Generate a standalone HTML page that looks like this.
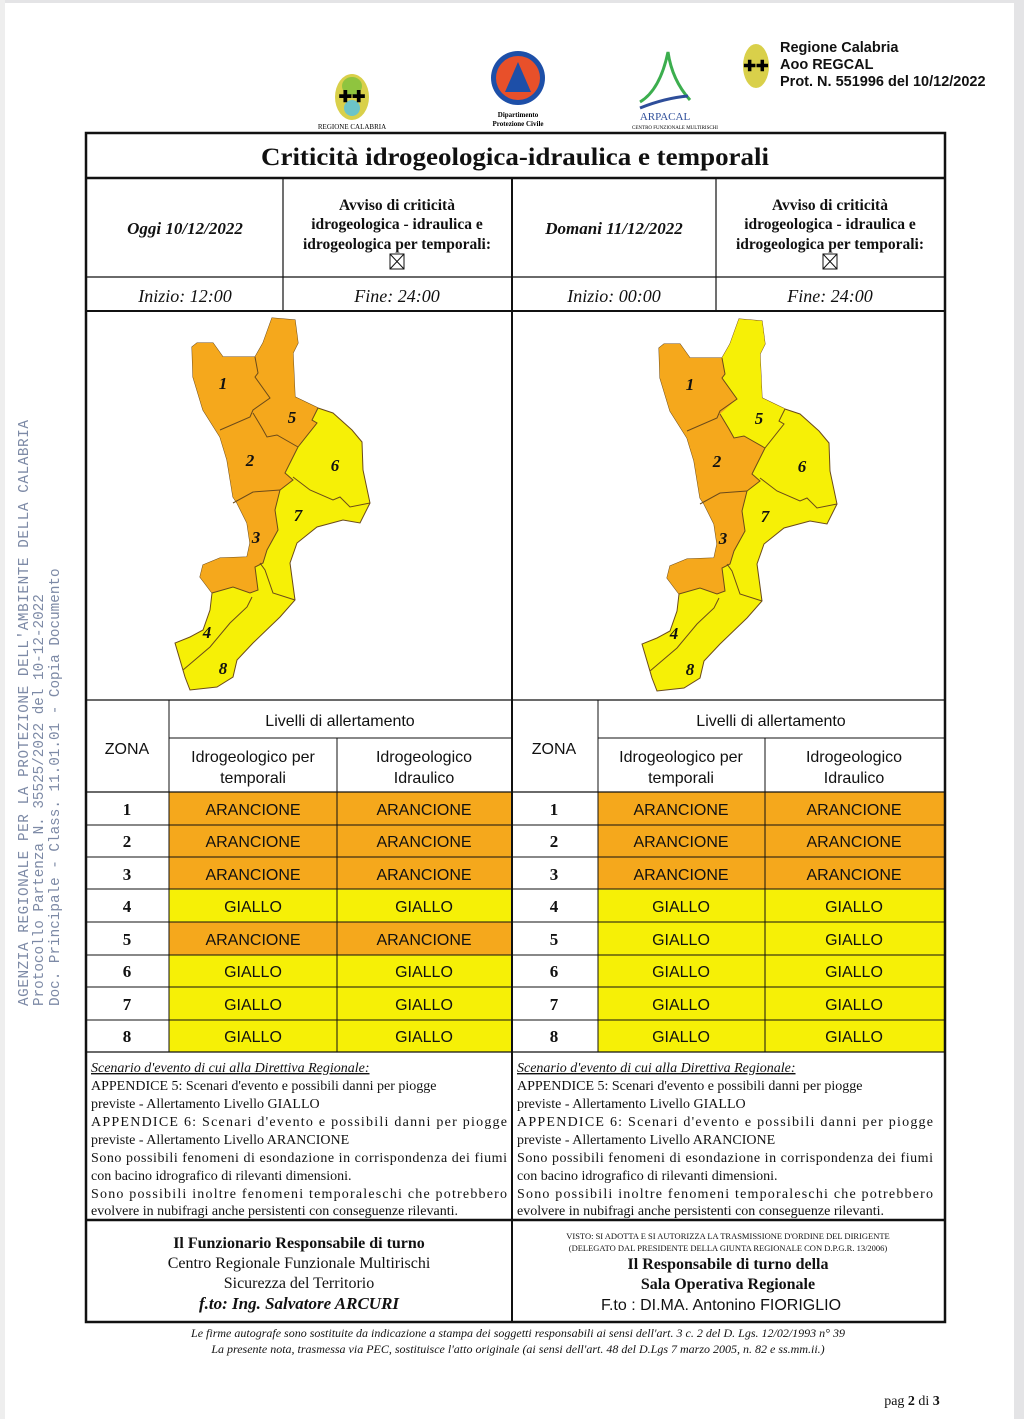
<!DOCTYPE html>
<html><head><meta charset="utf-8">
<style>
html,body{margin:0;padding:0;background:#fff}
svg{display:block}
.s{font-family:"Liberation Serif",serif}
.a{font-family:"Liberation Sans",sans-serif}
</style></head>
<body>
<svg width="1024" height="1419" viewBox="0 0 1024 1419" xmlns="http://www.w3.org/2000/svg">
<rect x="0" y="0" width="1024" height="1419" fill="#fff"/>
<rect x="1014" y="0" width="10" height="1419" fill="#e4e4e6"/>
<rect x="0" y="0" width="1024" height="3" fill="#e4e4e6"/>
<rect x="0" y="0" width="5" height="1419" fill="#eeeeee"/>

<!-- watermark -->
<g font-family="Liberation Mono,monospace" font-size="14.3" fill="#7d8aa6">
<text transform="translate(28,1006) rotate(-90)" textLength="586" lengthAdjust="spacing">AGENZIA REGIONALE PER LA PROTEZIONE DELL'AMBIENTE DELLA CALABRIA</text>
<text transform="translate(43,1006) rotate(-90)">Protocollo Partenza N. 35525/2022 del 10-12-2022</text>
<text transform="translate(59,1006) rotate(-90)">Doc. Principale - Class. 11.01.01 - Copia Documento</text>
</g>

<!-- logos -->
<ellipse cx="352" cy="97" rx="17" ry="23" fill="#d9d04a"/>
<ellipse cx="352" cy="86" rx="10" ry="9" fill="#8fc43f"/>
<ellipse cx="352" cy="108" rx="8" ry="8" fill="#6cc4c8"/>
<text x="352" y="102" font-size="16" text-anchor="middle" class="a" font-weight="bold">✚✚</text>
<text x="352" y="129" font-size="7" text-anchor="middle" class="s">REGIONE CALABRIA</text>
<circle cx="518" cy="78" r="27" fill="#1d4fa8"/>
<circle cx="518" cy="78" r="22" fill="#e8502a"/>
<path d="M505 92 L518 62 L531 92 Z" fill="#1d4fa8"/>
<text x="518" y="117" font-size="7" text-anchor="middle" class="s" font-weight="bold">Dipartimento</text>
<text x="518" y="126" font-size="7" text-anchor="middle" class="s" font-weight="bold">Protezione Civile</text>
<path d="M640 102 Q660 90 668 52 Q672 80 690 100" fill="none" stroke="#3cae4e" stroke-width="3"/>
<path d="M640 108 Q665 98 688 96" fill="none" stroke="#2e4e9a" stroke-width="3"/>
<text x="665" y="120" font-size="11" text-anchor="middle" class="s" fill="#2e4e9a">ARPACAL</text>
<text x="675" y="129" font-size="5" text-anchor="middle" class="s">CENTRO FUNZIONALE MULTIRISCHI</text>
<ellipse cx="756" cy="66" rx="13" ry="22" fill="#d9d04a"/>
<text x="756" y="71" font-size="15" text-anchor="middle" class="a" font-weight="bold">✚✚</text>
<g class="a" font-size="14.5" font-weight="bold" fill="#111">
<text x="780" y="52">Regione Calabria</text>
<text x="780" y="69">Aoo REGCAL</text>
<text x="780" y="86">Prot. N. 551996 del 10/12/2022</text>
</g>

<!-- colored cells -->
<g>
<rect x="169" y="792" width="343" height="97" fill="#f5a81c"/>
<rect x="169" y="889" width="343" height="33" fill="#f6f006"/>
<rect x="169" y="922" width="343" height="33" fill="#f5a81c"/>
<rect x="169" y="955" width="343" height="97" fill="#f6f006"/>
<rect x="598" y="792" width="347" height="97" fill="#f5a81c"/>
<rect x="598" y="889" width="347" height="163" fill="#f6f006"/>
</g>

<!-- grid -->
<g stroke="#111" fill="none">
<rect x="86" y="133" width="859" height="1189" stroke-width="2.5"/>
<line x1="86" y1="178" x2="945" y2="178" stroke-width="2.5"/>
<line x1="86" y1="277" x2="945" y2="277" stroke-width="1.2"/>
<line x1="86" y1="311" x2="945" y2="311" stroke-width="2"/>
<line x1="86" y1="700" x2="945" y2="700" stroke-width="1.2"/>
<line x1="86" y1="792" x2="945" y2="792" stroke-width="1.2"/>
<line x1="169" y1="738" x2="512" y2="738" stroke-width="1"/>
<line x1="598" y1="738" x2="945" y2="738" stroke-width="1"/>
<line x1="86" y1="825" x2="945" y2="825" stroke-width="1"/>
<line x1="86" y1="857" x2="945" y2="857" stroke-width="1"/>
<line x1="86" y1="889" x2="945" y2="889" stroke-width="1"/>
<line x1="86" y1="922" x2="945" y2="922" stroke-width="1"/>
<line x1="86" y1="955" x2="945" y2="955" stroke-width="1"/>
<line x1="86" y1="987" x2="945" y2="987" stroke-width="1"/>
<line x1="86" y1="1020" x2="945" y2="1020" stroke-width="1"/>
<line x1="86" y1="1052" x2="945" y2="1052" stroke-width="1.2"/>
<line x1="86" y1="1220" x2="945" y2="1220" stroke-width="2.5"/>
<line x1="512" y1="178" x2="512" y2="1322" stroke-width="2"/>
<line x1="283" y1="178" x2="283" y2="311" stroke-width="1.2"/>
<line x1="716" y1="178" x2="716" y2="311" stroke-width="1.2"/>
<line x1="169" y1="700" x2="169" y2="1052" stroke-width="1"/>
<line x1="337" y1="738" x2="337" y2="1052" stroke-width="1"/>
<line x1="598" y1="700" x2="598" y2="1052" stroke-width="1"/>
<line x1="765" y1="738" x2="765" y2="1052" stroke-width="1"/>
</g>

<!-- header texts -->
<g class="s" fill="#111">
<text x="515" y="165" font-size="25" font-weight="bold" text-anchor="middle" textLength="508" lengthAdjust="spacingAndGlyphs">Criticità idrogeologica-idraulica e temporali</text>
<text x="185" y="234" font-size="17" font-weight="bold" font-style="italic" text-anchor="middle">Oggi 10/12/2022</text>
<text x="614" y="234" font-size="17" font-weight="bold" font-style="italic" text-anchor="middle">Domani 11/12/2022</text>
<g font-size="15.5" font-weight="bold" text-anchor="middle">
<text x="397" y="210">Avviso di criticità</text>
<text x="397" y="229">idrogeologica - idraulica e</text>
<text x="397" y="249">idrogeologica per temporali:</text>
<text x="830" y="210">Avviso di criticità</text>
<text x="830" y="229">idrogeologica - idraulica e</text>
<text x="830" y="249">idrogeologica per temporali:</text>
</g>
<g font-size="18" font-style="italic" text-anchor="middle">
<text x="185" y="302">Inizio: 12:00</text>
<text x="397" y="302">Fine: 24:00</text>
<text x="614" y="302">Inizio: 00:00</text>
<text x="830" y="302">Fine: 24:00</text>
</g>
</g>
<g stroke="#111" stroke-width="1" fill="none">
<rect x="390" y="254" width="14" height="15"/><path d="M390 254 L404 269 M404 254 L390 269"/>
<rect x="823" y="254" width="14" height="15"/><path d="M823 254 L837 269 M837 254 L823 269"/>
</g>

<!-- maps -->
<defs>
<polygon id="outline" points="272,318 295,320 298,343 293,353 295,397 318,408 333,413 352,430 362,442 363,470 370,503 360,523 343,520 317,527 297,543 290,563 295,600 280,617 253,643 237,660 233,677 217,687 190,690 185,677 175,643 190,637 203,630 210,610 212,593 200,577 203,565 220,558 247,557 250,543 247,523 237,503 233,497 227,460 220,437 203,410 193,377 192,347 197,343 213,343 223,357 255,357 263,343"/>
<polygon id="orange" points="272,318 295,320 298,343 293,353 295,397 318,408 312,420 317,423 298,447 293,457 285,473 293,480 280,490 275,510 278,530 267,550 263,563 255,567 258,590 250,593 233,587 212,593 200,577 203,565 220,558 247,557 250,543 247,523 237,503 233,497 227,460 220,437 203,410 193,377 192,347 197,343 213,343 223,357 255,357 263,343"/>
<polygon id="z5" points="255,357 263,343 272,318 295,320 298,343 293,353 295,397 318,408 312,420 317,423 298,447 277,435 267,437 262,428 253,413 270,398 255,377 258,373"/>
<g id="lines" fill="none" stroke="#6b4a1a" stroke-width="1">
<polyline points="255,357 258,373 255,377 270,398 253,410 250,417 220,430"/>
<polyline points="253,413 262,428 267,437 277,435 298,447"/>
<polyline points="233,503 253,492 280,490"/>
<polyline points="293,477 310,490 333,500 340,497 350,507 370,503"/>
<polyline points="260,563 265,570 273,593 295,600"/>
<polyline points="252,597 247,607 230,623 210,647 183,670"/>
<polyline points="318,408 312,420 317,423 298,447 293,457 285,473 293,480 280,490 275,510 278,530 267,550 263,563 255,567 258,590 250,593 233,587 212,593"/>
</g>
<g id="nums" class="s" font-size="17" font-weight="bold" font-style="italic" fill="#111" text-anchor="middle">
<text x="223" y="389">1</text><text x="292" y="423">5</text><text x="250" y="466">2</text>
<text x="335" y="471">6</text><text x="298" y="521">7</text><text x="256" y="543">3</text>
<text x="207" y="638">4</text><text x="223" y="674">8</text>
</g>
</defs>
<g>
<use href="#outline" fill="#f6f006" stroke="#6b4a1a" stroke-width="1"/>
<use href="#orange" fill="#f5a81c"/>
<use href="#lines"/><use href="#nums"/>
</g>
<g transform="translate(467,1)">
<use href="#outline" fill="#f6f006" stroke="#6b4a1a" stroke-width="1"/>
<use href="#orange" fill="#f5a81c"/>
<use href="#z5" fill="#f6f006"/>
<use href="#lines"/><use href="#nums"/>
</g>

<!-- zone table headers -->
<g class="a" font-size="16" fill="#111" text-anchor="middle">
<text x="127" y="754">ZONA</text>
<text x="340" y="726">Livelli di allertamento</text>
<text x="253" y="762">Idrogeologico per</text>
<text x="253" y="783">temporali</text>
<text x="424" y="762">Idrogeologico</text>
<text x="424" y="783">Idraulico</text>
<text x="554" y="754">ZONA</text>
<text x="771" y="726">Livelli di allertamento</text>
<text x="681" y="762">Idrogeologico per</text>
<text x="681" y="783">temporali</text>
<text x="854" y="762">Idrogeologico</text>
<text x="854" y="783">Idraulico</text>
</g>
<g class="s" font-size="17" font-weight="bold" fill="#111" text-anchor="middle">
<text x="127" y="815">1</text><text x="127" y="847">2</text><text x="127" y="880">3</text><text x="127" y="912">4</text>
<text x="127" y="945">5</text><text x="127" y="977">6</text><text x="127" y="1010">7</text><text x="127" y="1042">8</text>
<text x="554" y="815">1</text><text x="554" y="847">2</text><text x="554" y="880">3</text><text x="554" y="912">4</text>
<text x="554" y="945">5</text><text x="554" y="977">6</text><text x="554" y="1010">7</text><text x="554" y="1042">8</text>
</g>
<g class="a" font-size="16" fill="#111" text-anchor="middle">
<text x="253" y="815">ARANCIONE</text><text x="424" y="815">ARANCIONE</text><text x="681" y="815">ARANCIONE</text><text x="854" y="815">ARANCIONE</text>
<text x="253" y="847">ARANCIONE</text><text x="424" y="847">ARANCIONE</text><text x="681" y="847">ARANCIONE</text><text x="854" y="847">ARANCIONE</text>
<text x="253" y="880">ARANCIONE</text><text x="424" y="880">ARANCIONE</text><text x="681" y="880">ARANCIONE</text><text x="854" y="880">ARANCIONE</text>
<text x="253" y="912">GIALLO</text><text x="424" y="912">GIALLO</text><text x="681" y="912">GIALLO</text><text x="854" y="912">GIALLO</text>
<text x="253" y="945">ARANCIONE</text><text x="424" y="945">ARANCIONE</text><text x="681" y="945">GIALLO</text><text x="854" y="945">GIALLO</text>
<text x="253" y="977">GIALLO</text><text x="424" y="977">GIALLO</text><text x="681" y="977">GIALLO</text><text x="854" y="977">GIALLO</text>
<text x="253" y="1010">GIALLO</text><text x="424" y="1010">GIALLO</text><text x="681" y="1010">GIALLO</text><text x="854" y="1010">GIALLO</text>
<text x="253" y="1042">GIALLO</text><text x="424" y="1042">GIALLO</text><text x="681" y="1042">GIALLO</text><text x="854" y="1042">GIALLO</text>
</g>

<!-- scenarios -->
<g id="scen" class="s" font-size="14" fill="#111">
<text x="91" y="1072" font-style="italic" text-decoration="underline">Scenario d'evento di cui alla Direttiva Regionale:</text>
<text x="91" y="1090">APPENDICE 5: Scenari d'evento e possibili danni per piogge</text>
<text x="91" y="1108">previste - Allertamento Livello GIALLO</text>
<text x="91" y="1126" textLength="416" lengthAdjust="spacing">APPENDICE 6: Scenari d'evento e possibili danni per piogge</text>
<text x="91" y="1144">previste - Allertamento Livello ARANCIONE</text>
<text x="91" y="1162" textLength="416" lengthAdjust="spacing">Sono possibili fenomeni di esondazione in corrispondenza dei fiumi</text>
<text x="91" y="1180">con bacino idrografico di rilevanti dimensioni.</text>
<text x="91" y="1198" textLength="416" lengthAdjust="spacing">Sono possibili inoltre fenomeni temporaleschi che potrebbero</text>
<text x="91" y="1215">evolvere in nubifragi anche persistenti con conseguenze rilevanti.</text>
</g>
<use href="#scen" transform="translate(426,0)"/>

<!-- signatures -->
<g class="s" fill="#111" text-anchor="middle">
<text x="299" y="1248" font-size="16" font-weight="bold">Il Funzionario Responsabile di turno</text>
<text x="299" y="1268" font-size="16">Centro Regionale Funzionale Multirischi</text>
<text x="299" y="1288" font-size="16">Sicurezza del Territorio</text>
<text x="299" y="1309" font-size="17" font-weight="bold" font-style="italic">f.to: Ing. Salvatore ARCURI</text>
<text x="728" y="1239" font-size="8.5">VISTO: SI ADOTTA E SI AUTORIZZA LA TRASMISSIONE D'ORDINE DEL DIRIGENTE</text>
<text x="728" y="1251" font-size="8.5">(DELEGATO DAL PRESIDENTE DELLA GIUNTA REGIONALE CON D.P.G.R. 13/2006)</text>
<text x="728" y="1269" font-size="16" font-weight="bold">Il Responsabile di turno della</text>
<text x="728" y="1289" font-size="16" font-weight="bold">Sala Operativa Regionale</text>
<text x="721" y="1310" font-size="16" font-family="Liberation Sans,sans-serif">F.to : DI.MA. Antonino FIORIGLIO</text>
<text x="518" y="1337" font-size="12" font-style="italic">Le firme autografe sono sostituite da indicazione a stampa dei soggetti responsabili ai sensi dell'art. 3 c. 2 del D. Lgs. 12/02/1993 n° 39</text>
<text x="518" y="1353" font-size="12" font-style="italic">La presente nota, trasmessa via PEC, sostituisce l'atto originale (ai sensi dell'art. 48 del D.Lgs 7 marzo 2005, n. 82 e ss.mm.ii.)</text>
<text x="912" y="1405" font-size="14">pag <tspan font-weight="bold">2</tspan> di <tspan font-weight="bold">3</tspan></text>
</g>
</svg>
</body></html>
